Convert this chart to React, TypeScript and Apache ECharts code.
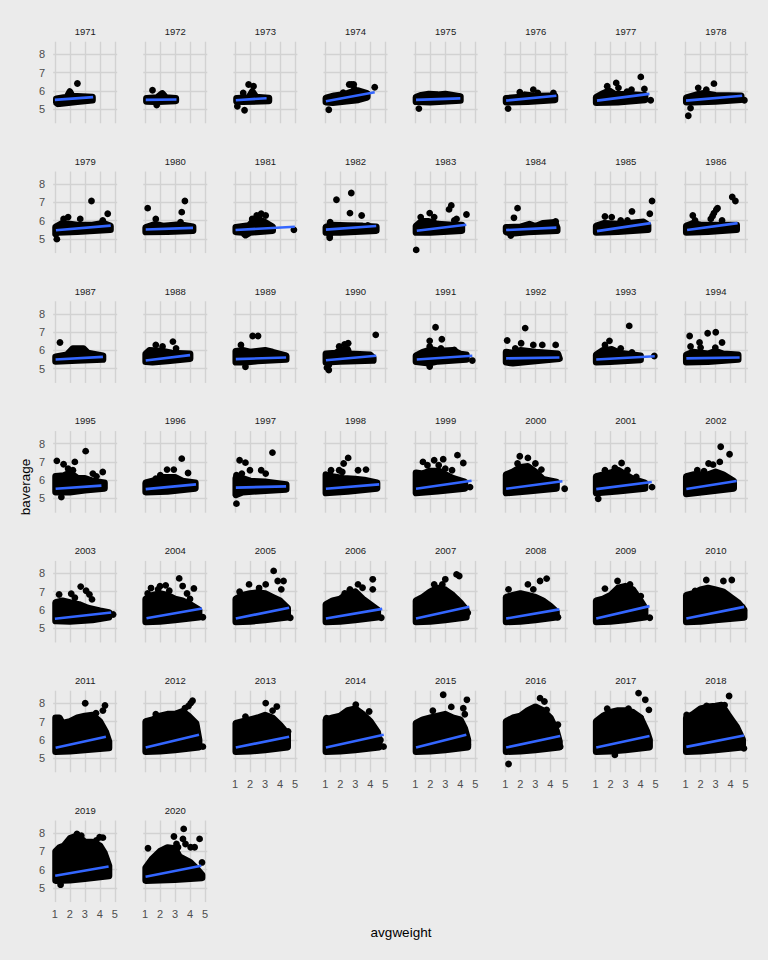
import React, { useEffect, useRef } from "react";
import * as echarts from "echarts";

const YEARS = ["1971","1972","1973","1974","1975","1976","1977","1978","1979","1980","1981","1982","1983","1984","1985","1986","1987","1988","1989","1990","1991","1992","1993","1994","1995","1996","1997","1998","1999","2000","2001","2002","2003","2004","2005","2006","2007","2008","2009","2010","2011","2012","2013","2014","2015","2016","2017","2018","2019","2020"];

const X_TICKS = [1, 2, 3, 4, 5];
const Y_TICKS = [5, 6, 7, 8];
const X_LIMITS = [0.887, 5.153];
const Y_LIMITS = [4.215, 8.69];

// dense point cloud outline per year (avgweight, baverage)
const CLOUDS: number[][][] = [
  [[1.1,5.35],[1.1,5.55],[1.8,5.65],[2.0,5.95],[2.15,5.7],[3.5,5.65],[3.5,5.48],[2.5,5.4],[1.3,5.3]],
  [[1.1,5.42],[1.1,5.58],[1.8,5.62],[2.15,5.85],[2.4,5.62],[3.05,5.58],[3.05,5.45],[1.9,5.4],[1.6,5.4]],
  [[1.1,5.42],[1.1,5.58],[1.9,5.62],[2.15,5.95],[2.4,5.65],[3.25,5.6],[3.25,5.45],[1.5,5.4]],
  [[1.05,5.38],[1.05,5.6],[1.6,5.72],[2.3,5.8],[2.8,5.95],[3.2,6.0],[3.8,5.85],[3.8,5.65],[3.2,5.5],[1.5,5.35]],
  [[1.05,5.4],[1.05,5.65],[1.4,5.75],[1.9,5.82],[2.5,5.78],[3.0,5.82],[3.5,5.75],[4.0,5.68],[4.0,5.47],[2.0,5.38]],
  [[1.05,5.38],[1.05,5.58],[2.0,5.65],[2.3,5.78],[3.0,5.7],[3.9,5.72],[4.3,5.7],[4.3,5.5],[2.5,5.4]],
  [[1.05,5.35],[1.05,5.65],[1.5,5.85],[1.9,6.0],[2.3,5.8],[3.0,5.8],[4.3,5.75],[4.3,5.5],[2.5,5.38]],
  [[1.05,5.38],[1.05,5.62],[1.8,5.8],[2.2,5.85],[3.0,5.75],[4.7,5.72],[4.7,5.52],[3.0,5.42],[1.5,5.38]],
  [[1.05,5.25],[1.05,5.65],[1.5,5.85],[2.0,5.8],[2.5,5.75],[3.5,5.75],[4.2,5.85],[4.7,5.7],[4.7,5.5],[2.5,5.4],[1.2,5.35]],
  [[1.05,5.38],[1.05,5.62],[1.7,5.8],[2.2,5.7],[3.3,5.78],[4.2,5.65],[4.2,5.45],[2.5,5.4]],
  [[1.05,5.38],[1.05,5.62],[1.9,5.72],[2.2,5.95],[2.6,6.05],[3.0,5.9],[3.5,5.65],[3.5,5.45],[2.0,5.35],[1.7,5.2],[1.5,5.35]],
  [[1.05,5.35],[1.05,5.65],[1.5,5.75],[2.5,5.72],[3.5,5.7],[4.4,5.65],[4.4,5.45],[2.0,5.35]],
  [[1.05,5.35],[1.05,5.7],[1.4,5.95],[1.9,5.95],[2.5,5.8],[3.5,5.75],[4.1,5.75],[4.1,5.45],[2.0,5.35]],
  [[1.05,5.38],[1.05,5.62],[2.0,5.65],[2.6,5.8],[3.0,5.68],[3.5,5.85],[4.3,5.9],[4.45,5.6],[4.45,5.45],[2.5,5.38],[1.4,5.3]],
  [[1.05,5.35],[1.05,5.7],[1.6,5.85],[2.5,5.8],[3.2,5.85],[4.2,5.92],[4.5,5.75],[4.5,5.5],[2.5,5.4]],
  [[1.05,5.35],[1.05,5.7],[1.5,5.85],[2.0,5.75],[3.0,5.75],[4.4,5.75],[4.4,5.5],[2.5,5.4]],
  [[1.05,5.4],[1.05,5.65],[1.8,5.75],[2.2,6.1],[2.9,6.1],[3.2,5.85],[4.2,5.7],[4.2,5.5],[2.5,5.45]],
  [[1.05,5.38],[1.05,5.8],[1.3,6.0],[2.2,5.95],[2.8,5.85],[4.0,5.8],[4.0,5.55],[2.5,5.42],[1.5,5.35]],
  [[1.05,5.35],[1.05,5.95],[1.5,6.0],[2.0,5.9],[3.0,6.0],[3.5,5.9],[4.4,5.7],[4.4,5.5],[2.5,5.42],[1.7,5.35]],
  [[1.05,5.35],[1.05,5.8],[1.7,5.85],[2.0,6.0],[2.5,6.05],[2.6,5.8],[4.0,5.75],[4.2,5.6],[4.2,5.45],[2.0,5.4]],
  [[1.05,5.38],[1.05,5.7],[1.5,5.9],[2.1,6.05],[2.6,5.95],[3.5,6.0],[4.0,5.8],[4.4,5.75],[4.4,5.5],[2.5,5.4],[1.9,5.3]],
  [[1.05,5.35],[1.05,5.9],[1.5,5.85],[2.0,6.0],[3.0,5.9],[4.5,5.8],[4.6,5.55],[2.5,5.38],[1.5,5.3]],
  [[1.05,5.35],[1.05,5.75],[1.5,6.0],[2.1,6.05],[2.6,5.85],[3.5,5.75],[4.0,5.7],[4.0,5.48],[2.0,5.38]],
  [[1.05,5.35],[1.05,5.75],[1.5,5.9],[2.5,5.8],[3.0,5.95],[3.5,5.8],[4.5,5.75],[4.5,5.5],[2.5,5.38]],
  [[1.05,5.35],[1.05,6.2],[1.6,6.25],[2.0,6.4],[2.5,6.1],[3.0,6.1],[3.5,5.95],[4.3,5.85],[4.3,5.55],[3.0,5.45],[2.0,5.35]],
  [[1.05,5.35],[1.05,5.85],[1.7,6.0],[2.2,6.15],[3.0,6.15],[3.5,5.95],[4.35,5.85],[4.35,5.55],[2.5,5.38]],
  [[1.05,5.2],[1.05,6.1],[1.5,6.1],[2.0,5.95],[3.0,5.9],[3.5,5.85],[4.4,5.75],[4.4,5.5],[2.5,5.4],[1.5,5.35]],
  [[1.05,5.3],[1.05,6.3],[1.5,6.2],[2.2,6.1],[3.0,6.05],[3.6,6.0],[4.45,5.85],[4.45,5.55],[2.5,5.38]],
  [[1.05,5.3],[1.05,6.4],[1.5,6.35],[2.0,6.5],[2.6,6.5],[3.0,6.3],[3.5,6.1],[4.3,5.9],[4.3,5.55],[2.5,5.4]],
  [[1.05,5.3],[1.05,6.3],[1.5,6.45],[2.0,6.7],[2.5,6.75],[3.0,6.45],[3.5,6.05],[4.4,5.9],[4.4,5.55],[2.5,5.4]],
  [[1.05,5.3],[1.05,6.2],[1.5,6.3],[2.0,6.4],[2.5,6.55],[3.0,6.3],[3.5,6.05],[4.3,5.85],[4.3,5.55],[2.5,5.4]],
  [[1.05,5.25],[1.05,6.2],[1.5,6.3],[2.5,6.3],[3.0,6.45],[3.5,6.3],[4.2,5.95],[4.2,5.55],[2.5,5.38]],
  [[1.05,5.4],[1.05,6.4],[1.5,6.5],[2.0,6.4],[2.6,6.3],[3.2,6.1],[4.0,5.95],[4.6,5.85],[4.6,5.6],[3.5,5.45],[2.0,5.38]],
  [[1.05,5.35],[1.05,6.6],[1.5,6.8],[2.0,6.9],[2.5,6.8],[3.0,6.6],[3.5,6.5],[4.0,6.3],[4.6,6.0],[4.6,5.6],[3.0,5.45],[2.0,5.38]],
  [[1.05,5.35],[1.05,6.6],[1.5,6.8],[2.0,6.9],[2.5,6.95],[3.0,6.9],[3.5,6.7],[4.0,6.5],[4.5,6.1],[4.5,5.6],[3.0,5.45],[2.0,5.38]],
  [[1.05,5.35],[1.05,6.3],[1.5,6.5],[2.0,6.6],[2.5,6.9],[3.0,7.0],[3.5,6.6],[4.0,6.3],[4.5,6.0],[4.5,5.6],[3.0,5.45],[2.0,5.38]],
  [[1.05,5.35],[1.05,6.5],[1.5,6.7],[2.0,7.0],[2.5,7.2],[3.0,7.1],[3.5,6.8],[4.0,6.4],[4.4,6.0],[4.4,5.6],[3.0,5.45],[2.0,5.38]],
  [[1.05,5.35],[1.05,6.7],[1.5,6.8],[2.0,6.9],[2.5,6.8],[3.0,6.7],[3.5,6.5],[4.0,6.2],[4.4,5.9],[4.4,5.6],[3.0,5.45],[2.0,5.38]],
  [[1.05,5.35],[1.05,6.5],[1.5,6.6],[2.0,6.8],[2.5,7.2],[3.0,7.3],[3.5,7.1],[4.0,6.5],[4.3,6.1],[4.3,5.6],[3.0,5.45],[2.0,5.38]],
  [[1.05,5.35],[1.05,6.8],[1.5,6.9],[2.0,7.1],[2.5,7.2],[3.0,7.1],[3.5,7.0],[4.0,6.7],[4.5,6.4],[4.9,6.0],[4.9,5.6],[3.0,5.45],[2.0,5.38]],
  [[1.05,5.35],[1.05,7.2],[1.3,7.2],[1.5,6.9],[2.0,7.0],[2.5,7.2],[3.0,7.3],[3.5,7.35],[4.0,7.0],[4.4,6.4],[4.6,5.9],[4.6,5.55],[3.0,5.45],[2.0,5.38]],
  [[1.05,5.35],[1.05,7.0],[1.5,7.1],[2.0,7.3],[2.5,7.4],[3.0,7.4],[3.5,7.55],[3.9,7.3],[4.4,6.9],[4.6,6.0],[4.6,5.6],[3.0,5.45],[2.0,5.38]],
  [[1.05,5.35],[1.05,6.9],[1.5,7.0],[2.0,7.1],[2.5,7.2],[3.0,7.35],[3.5,7.2],[4.0,6.8],[4.5,6.3],[4.5,5.6],[3.0,5.45],[2.0,5.38]],
  [[1.05,5.35],[1.05,7.1],[1.5,7.2],[2.0,7.3],[2.5,7.6],[3.0,7.7],[3.5,7.4],[4.0,7.0],[4.5,6.4],[4.6,5.9],[4.6,5.6],[3.0,5.45],[2.0,5.38]],
  [[1.05,5.35],[1.05,6.9],[1.5,7.1],[2.0,7.2],[2.5,7.3],[3.0,7.4],[3.5,7.2],[4.0,7.1],[4.3,6.6],[4.5,6.0],[4.5,5.6],[3.0,5.45],[2.0,5.38]],
  [[1.05,5.35],[1.05,7.0],[1.5,7.2],[2.0,7.3],[2.5,7.6],[3.0,7.8],[3.5,7.6],[4.0,7.2],[4.4,6.5],[4.6,5.9],[4.6,5.6],[3.0,5.45],[2.0,5.38]],
  [[1.05,5.35],[1.05,7.0],[1.5,7.3],[2.0,7.5],[2.5,7.6],[3.0,7.6],[3.5,7.5],[4.0,7.2],[4.4,6.5],[4.6,6.0],[4.6,5.6],[3.0,5.45],[2.0,5.38]],
  [[1.05,5.35],[1.05,7.2],[1.5,7.4],[2.0,7.7],[2.5,7.8],[3.0,7.85],[3.4,7.9],[3.8,7.4],[4.1,7.05],[4.4,6.7],[4.8,6.0],[4.8,5.6],[3.0,5.45],[2.0,5.38]],
  [[1.05,5.4],[1.05,7.0],[1.3,7.2],[1.6,7.3],[2.0,7.7],[2.5,7.85],[3.0,7.5],[3.5,7.5],[4.0,7.3],[4.3,6.9],[4.6,6.2],[4.6,5.65],[3.0,5.5],[2.0,5.42]],
  [[1.05,5.4],[1.05,6.1],[1.5,6.6],[2.0,7.0],[2.5,7.2],[3.0,7.15],[3.3,6.7],[4.0,6.4],[4.5,6.0],[4.8,5.7],[4.8,5.55],[3.0,5.45],[2.0,5.42]],
];

// isolated points per year
const OUTLIERS: number[][][] = [
  [[2.5,6.4],[1.2,5.28]],
  [[1.5,6.03],[1.78,5.22]],
  [[1.9,6.34],[2.23,6.25],[1.54,5.88],[1.15,5.15],[1.63,4.93]],
  [[1.24,4.96],[2.6,6.34],[2.75,6.34],[2.9,6.34],[2.95,6.1],[4.3,6.19],[2.2,5.9]],
  [[1.24,5.02]],
  [[1.18,5.02],[1.96,5.92],[2.86,6.06],[3.16,5.88],[4.2,5.88]],
  [[4.02,6.76],[4.26,6.1],[4.68,5.48],[1.78,6.25],[2.38,6.43],[2.53,6.16],[3.4,6.06],[3.1,5.95]],
  [[1.18,4.63],[1.33,5.05],[1.84,6.16],[2.89,6.39],[2.38,6.06],[4.92,5.48]],
  [[3.44,7.07],[4.52,6.37],[1.13,4.98],[1.58,6.09],[1.88,6.19],[2.69,6.09],[4.19,6.0]],
  [[1.18,6.68],[3.66,7.07],[3.45,6.46],[1.72,6.09],[3.37,5.91]],
  [[4.92,5.49],[2.44,6.28],[2.74,6.37],[3.04,6.28],[2.14,6.09]],
  [[2.74,7.51],[1.75,7.14],[2.65,6.41],[3.43,6.28],[1.3,5.18],[1.33,5.91],[3.84,5.73],[1.3,5.05]],
  [[1.06,4.39],[3.4,6.83],[3.25,6.61],[4.41,6.33],[1.96,6.41],[2.26,6.19],[3.75,6.09],[1.36,6.19],[3.6,6.0]],
  [[1.81,6.68],[1.57,6.15],[1.36,5.18],[4.35,5.95]],
  [[4.77,7.07],[4.62,6.37],[3.43,6.5],[1.63,6.22],[2.08,6.19],[2.68,6.0],[3.13,6.0]],
  [[4.11,7.29],[4.32,7.07],[3.13,6.68],[2.89,6.41],[2.68,6.09],[3.43,6.0],[1.48,6.28],[1.63,6.0],[2.8,6.25],[3.05,6.6]],
  [[1.34,6.43]],
  [[1.72,6.3],[2.17,6.21],[2.86,6.48],[3.07,6.11]],
  [[2.17,6.79],[2.53,6.79],[1.39,6.3],[1.69,5.1]],
  [[4.37,6.85],[1.24,4.92],[1.24,5.2],[1.93,6.21],[2.29,6.33],[2.53,6.39],[1.12,5.05]],
  [[2.35,7.27],[1.96,6.52],[2.77,6.61],[1.96,6.21],[2.71,6.11],[3.6,6.02],[4.8,5.44],[1.96,5.11]],
  [[2.32,7.22],[1.12,6.54],[2.05,6.39],[2.86,6.3],[3.46,6.3],[4.35,6.3],[1.66,6.11]],
  [[3.25,7.34],[1.93,6.52],[1.63,6.3],[2.68,6.11],[3.43,5.88],[4.92,5.69]],
  [[1.27,6.79],[2.47,6.94],[3.01,6.99],[1.93,6.43],[3.43,6.43],[2.98,6.15],[1.33,6.21],[2.0,6.15]],
  [[3.05,7.59],[1.13,7.06],[1.58,6.87],[2.33,7.0],[1.88,6.63],[1.43,5.07],[3.53,6.36],[4.19,6.45],[3.77,6.21],[2.2,6.54]],
  [[3.45,7.18],[3.87,6.39],[2.47,6.58],[2.92,6.58],[2.02,6.27],[1.72,6.08]],
  [[1.09,4.71],[3.49,7.51],[1.3,7.09],[1.69,6.96],[1.99,6.54],[2.74,6.54],[3.04,6.36],[1.09,6.27],[1.45,6.36]],
  [[2.53,7.22],[2.23,6.91],[1.39,6.54],[2.14,6.45],[3.19,6.54],[3.72,6.58],[1.93,6.54]],
  [[3.81,7.37],[4.2,6.94],[2.86,7.15],[2.26,7.09],[1.51,7.0],[1.81,6.82],[2.56,6.82],[3.0,6.63],[4.65,5.62],[3.45,6.54]],
  [[1.96,7.31],[2.5,7.22],[3.0,6.91],[1.81,6.91],[1.66,6.49],[2.26,6.63],[3.4,6.58],[4.95,5.53]],
  [[2.74,6.94],[2.29,6.67],[1.63,6.54],[3.13,6.54],[3.72,6.17],[4.77,5.62],[1.18,4.98],[1.18,5.26]],
  [[3.34,7.83],[3.93,7.42],[2.53,6.91],[2.83,6.85],[3.28,7.0],[4.17,5.66],[1.78,6.54],[2.23,6.49],[1.33,6.17]],
  [[2.72,7.28],[3.08,7.05],[3.47,6.58],[4.88,5.75],[1.28,6.85],[2.09,6.89],[2.33,6.67],[3.3,6.85]],
  [[3.28,7.73],[2.38,7.35],[1.87,7.13],[3.51,7.31],[4.26,7.18],[4.86,5.6],[1.18,6.9],[2.62,7.05],[4.0,6.6],[1.4,7.2],[2.0,7.3],[3.8,6.9]],
  [[3.57,8.14],[1.93,7.4],[3.84,7.59],[4.23,7.59],[3.04,7.4],[4.08,7.13],[4.68,5.57],[1.3,7.0],[2.6,7.2]],
  [[4.17,7.68],[4.17,7.13],[3.19,7.4],[3.49,7.22],[2.65,7.13],[4.74,5.57],[2.3,6.9]],
  [[3.75,7.95],[3.93,7.86],[3.0,7.68],[2.26,7.4],[4.5,5.84],[3.75,6.58],[2.8,7.4]],
  [[2.5,7.4],[2.86,7.13],[3.31,7.59],[3.75,7.72],[1.21,7.13],[4.5,5.6]],
  [[1.63,7.17],[2.47,7.59],[4.62,5.57],[4.02,6.76],[3.3,7.4]],
  [[2.38,7.64],[3.52,7.59],[4.08,7.64],[4.77,6.17],[1.63,7.04]],
  [[3.02,8.0],[4.34,7.88],[3.74,7.46],[3.53,7.18],[4.2,7.6]],
  [[4.17,8.14],[4.05,8.01],[3.66,7.73],[1.72,7.4],[4.41,6.72],[4.86,5.62],[3.9,7.85]],
  [[3.04,8.01],[3.78,7.82],[1.69,7.27],[4.53,6.45],[4.47,5.62],[3.5,7.6]],
  [[3.04,7.92],[3.93,7.55],[1.09,7.18],[4.89,5.62],[4.68,5.99]],
  [[2.86,8.47],[4.44,8.19],[4.2,7.73],[2.17,7.59],[1.21,6.91],[4.5,5.72],[3.4,7.8],[4.3,7.4]],
  [[1.21,4.67],[3.31,8.28],[3.6,8.1],[3.75,7.64],[4.5,6.82],[4.65,5.62]],
  [[3.87,8.56],[4.32,8.19],[4.56,7.64],[1.78,7.7],[4.02,7.18],[2.29,5.17],[3.2,7.7]],
  [[3.9,8.4],[4.89,5.53],[4.26,6.72],[1.07,7.36],[3.6,7.9],[2.4,7.85]],
  [[1.38,5.17],[2.47,7.95],[2.76,7.86],[3.98,7.77],[3.76,7.59],[4.2,7.75]],
  [[3.58,8.23],[2.93,7.81],[3.53,7.68],[4.64,7.68],[1.2,7.17],[4.31,7.22],[4.8,6.39],[4.04,7.22],[3.2,7.22],[3.7,7.4],[3.1,7.4]],
];

// linear fit endpoints per year: [x0, y0, x1, y1]
const FITS: number[][] = [
  [1.0,5.5,3.55,5.65],[1.05,5.5,3.1,5.52],[1.05,5.48,3.1,5.59],[1.05,5.42,4.3,5.92],
  [1.05,5.5,4.0,5.58],[1.05,5.46,4.4,5.73],[1.1,5.46,4.6,5.83],[1.03,5.46,4.77,5.73],
  [1.07,5.47,4.72,5.72],[1.05,5.51,4.2,5.6],[1.03,5.48,4.98,5.66],[1.05,5.5,4.4,5.7],
  [1.1,5.44,4.4,5.77],[1.05,5.48,4.4,5.61],[1.1,5.42,4.68,5.86],[1.1,5.48,4.47,5.86],
  [1.05,5.5,4.2,5.64],[1.05,5.44,4.0,5.74],[1.05,5.52,4.4,5.61],[1.05,5.46,4.4,5.7],
  [1.1,5.5,4.8,5.7],[1.05,5.56,4.6,5.61],[1.05,5.5,4.95,5.68],[1.05,5.56,4.6,5.61],
  [1.05,5.53,4.1,5.7],[1.05,5.51,4.4,5.77],[1.05,5.59,4.4,5.66],[1.05,5.53,4.6,5.77],
  [1.05,5.53,4.75,5.97],[1.05,5.53,4.8,5.94],[1.05,5.51,4.75,5.9],[1.05,5.51,4.4,5.95],
  [1.0,5.52,4.75,5.86],[1.1,5.55,4.8,6.08],[1.05,5.53,4.6,6.12],[1.05,5.53,4.8,6.06],
  [1.05,5.53,4.6,6.17],[1.05,5.53,4.6,6.03],[1.05,5.53,4.6,6.21],[1.05,5.53,4.9,6.17],
  [1.05,5.56,4.4,6.16],[1.05,5.57,4.6,6.27],[1.05,5.57,4.6,6.17],[1.05,5.57,4.9,6.27],
  [1.05,5.57,4.4,6.27],[1.05,5.57,4.65,6.21],[1.05,5.57,4.6,6.21],[1.05,5.61,4.9,6.23],
  [1.02,5.66,4.58,6.17],[1.04,5.6,4.75,6.21],
];

const NCOL = 8;
const PANEL_LEFT = 53.2;
const PANEL_TOP = 41.7;
const PANEL_W = 64;
const PANEL_H = 81.6;
const PITCH_X = 90.1;
const PITCH_Y = 129.8;
const DOT = 6.8;
const FONT = "'Liberation Sans', Arial, Helvetica, sans-serif";

export default function App() {
  const ref = useRef<HTMLDivElement>(null);
  useEffect(() => {
    if (!ref.current) return;
    const chart = echarts.init(ref.current, null, { renderer: "svg" });
    const n = YEARS.length;
    const grids: any[] = [];
    const xAxes: any[] = [];
    const yAxes: any[] = [];
    const series: any[] = [];
    const graphics: any[] = [];
    const gridLine = { show: true, lineStyle: { color: "#d2d2d2", width: 1.4 } };
    for (let i = 0; i < n; i++) {
      const c = i % NCOL;
      const r = Math.floor(i / NCOL);
      const left = PANEL_LEFT + c * PITCH_X;
      const top = PANEL_TOP + r * PITCH_Y;
      grids.push({ left, top, width: PANEL_W, height: PANEL_H, containLabel: false });
      const showX = i + NCOL >= n;
      const showY = c === 0;
      xAxes.push({
        gridIndex: i, type: "value", min: X_LIMITS[0], max: X_LIMITS[1],
        axisLine: { show: false },
        axisTick: { show: false, customValues: X_TICKS },
        axisLabel: { show: showX, customValues: X_TICKS, fontSize: 11, color: "#4d4d4d", margin: 6, fontFamily: FONT },
        splitLine: gridLine,
      });
      yAxes.push({
        gridIndex: i, type: "value", min: Y_LIMITS[0], max: Y_LIMITS[1],
        axisLine: { show: false },
        axisTick: { show: false, customValues: Y_TICKS },
        axisLabel: { show: showY, customValues: Y_TICKS, fontSize: 11, color: "#4d4d4d", margin: 8, fontFamily: FONT },
        splitLine: gridLine,
      });
      const cloud = CLOUDS[i];
      series.push({
        type: "custom", xAxisIndex: i, yAxisIndex: i, silent: true, z: 2,
        data: [cloud[0]],
        renderItem: (_p: any, api: any) => ({
          type: "polygon",
          shape: { points: cloud.map((pt) => api.coord(pt)) },
          style: { fill: "#000", stroke: "#000", lineWidth: DOT, lineJoin: "round" },
        }),
      });
      series.push({
        type: "scatter", xAxisIndex: i, yAxisIndex: i, silent: true, z: 3,
        data: OUTLIERS[i], symbol: "circle", symbolSize: DOT,
        itemStyle: { color: "#000", opacity: 1 },
      });
      const f = FITS[i];
      series.push({
        type: "line", xAxisIndex: i, yAxisIndex: i, silent: true, z: 4,
        data: [[f[0], f[1]], [f[2], f[3]]], symbol: "none",
        lineStyle: { color: "#3366FF", width: 2.6 },
      });
      graphics.push({
        type: "text", x: left + PANEL_W / 2, y: 31.5 + r * PITCH_Y,
        style: { text: YEARS[i], textAlign: "center", textVerticalAlign: "middle", fontSize: 9.5, fill: "#1a1a1a", fontFamily: FONT },
      });
    }
    graphics.push({
      type: "text", x: 401, y: 932,
      style: { text: "avgweight", textAlign: "center", textVerticalAlign: "middle", fontSize: 13.5, fill: "#000", fontFamily: FONT },
    });
    graphics.push({
      type: "text", x: 25, y: 487, rotation: Math.PI / 2,
      style: { text: "baverage", textAlign: "center", textVerticalAlign: "middle", fontSize: 13.5, fill: "#000", fontFamily: FONT },
    });
    chart.setOption({
      animation: false,
      backgroundColor: "#ebebeb",
      grid: grids,
      xAxis: xAxes,
      yAxis: yAxes,
      series,
      graphic: graphics,
    });
    return () => chart.dispose();
  }, []);
  return <div ref={ref} style={{ position: "absolute", left: 0, top: 0, width: 768, height: 960 }} />;
}
